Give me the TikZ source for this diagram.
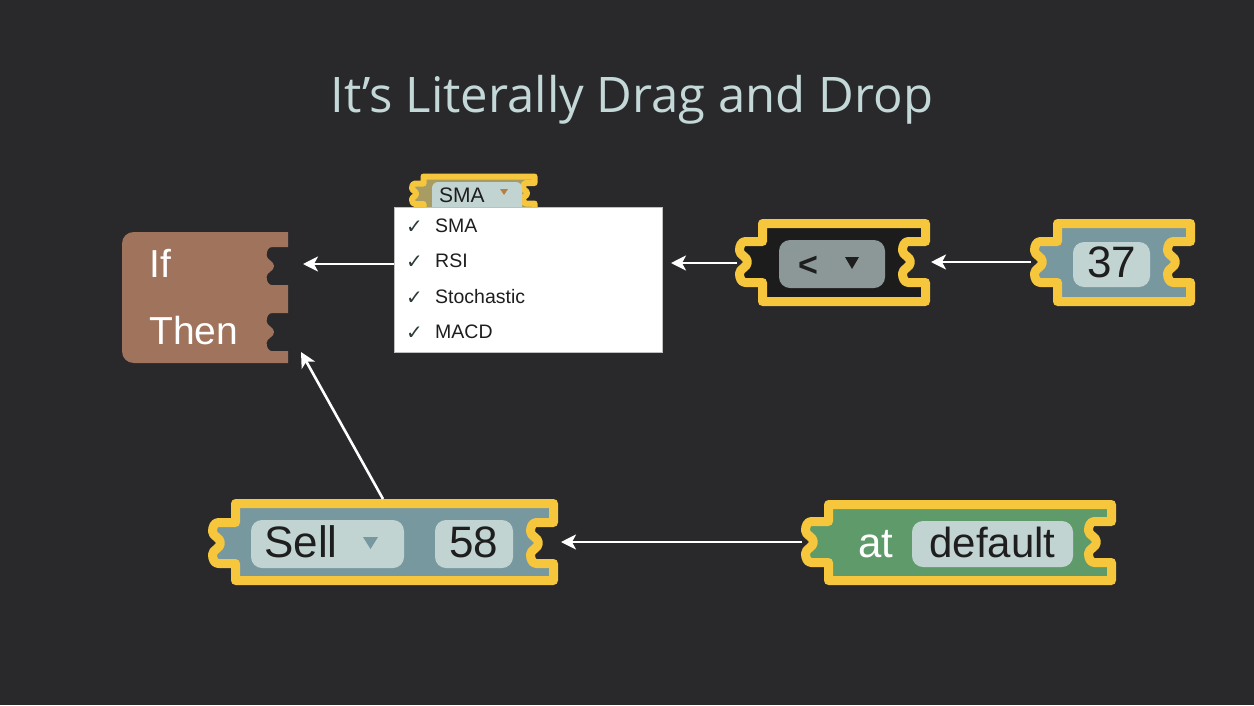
\documentclass[tikz,border=0pt]{standalone}
\usepackage{fontspec}
\setmainfont{Liberation Sans}
\newfontfamily\titlefont{Open Sans}
\newfontfamily\symfont{DejaVu Sans}
\usetikzlibrary{arrows.meta}

\definecolor{bg}{HTML}{29292B}
\definecolor{titlec}{HTML}{C4D8D8}
\definecolor{blkyellow}{HTML}{F6C63C}
\definecolor{ifbrown}{HTML}{A0745C}
\definecolor{tealblk}{HTML}{7898A0}
\definecolor{greenblk}{HTML}{5F9B6A}
\definecolor{darkblk}{HTML}{1C1C1C}
\definecolor{fieldc}{HTML}{C2D4D2}
\definecolor{opfield}{HTML}{8C9898}
\definecolor{smaint}{HTML}{A89C62}
\definecolor{inkc}{HTML}{1E1E1E}
\definecolor{checkc}{HTML}{2C3A3A}
\definecolor{caretc}{HTML}{B88040}

% Puzzle profile bulging to the left of a vertical edge at x=#1,
% starting at y=#2, scaled by #3, running down (#4=1) or up (#4=-1).
\newcommand{\puzzle}[4]{-- (#1,#2) -- ({#1-17*#3},#2)
  .. controls ({#1-21*#3},#2) and ({#1-23*#3},{#2+(#4)*4*#3}) .. ({#1-23*#3},{#2+(#4)*9*#3})
  .. controls ({#1-23*#3},{#2+(#4)*14*#3}) and ({#1-15*#3},{#2+(#4)*15*#3}) .. ({#1-15*#3},{#2+(#4)*20.5*#3})
  .. controls ({#1-15*#3},{#2+(#4)*26*#3}) and ({#1-23*#3},{#2+(#4)*27*#3}) .. ({#1-23*#3},{#2+(#4)*32*#3})
  .. controls ({#1-23*#3},{#2+(#4)*37*#3}) and ({#1-21*#3},{#2+(#4)*41*#3}) .. ({#1-17*#3},{#2+(#4)*41*#3})
  -- (#1,{#2+(#4)*41*#3})}

\tikzset{
  blk/.style={draw=blkyellow, line width=9pt, line join=round},
  fld/.style={rounded corners=11pt},
  lbl/.style={inner sep=0pt, text=inkc, font=\fontsize{44}{44}\selectfont},
  wlbl/.style={inner sep=0pt, text=white, font=\fontsize{39}{39}\selectfont},
  item/.style={inner sep=0pt, anchor=base west, text=inkc, font=\fontsize{19.5}{19.5}\selectfont},
  tick/.style={inner sep=0pt, anchor=base west, text=checkc, font=\symfont\fontsize{20}{20}\selectfont},
  conn/.style={draw=white, line width=2.6pt, -{Stealth[length=15pt,width=15pt,inset=4pt]}},
}

\begin{document}
\begin{tikzpicture}[x=1pt,y=-1pt]
\useasboundingbox (0,0) rectangle (1254,705);
\fill[bg] (0,0) rectangle (1254,705);

% title
\node[text=titlec, font=\titlefont\fontsize{49}{49}\selectfont, anchor=base, inner sep=0pt] (title) at (632,112) {It’s Literally Drag and Drop};

% If / Then block
\path[fill=ifbrown] (122,244) .. controls (122,237) and (127,232) .. (134,232) -- (288,232)
  \puzzle{288}{247}{0.93}{1} -- (288,313) \puzzle{288}{313}{0.93}{1} -- (288,363)
  -- (134,363) .. controls (127,363) and (122,358) .. (122,351) -- cycle;
\node[wlbl, anchor=base west] (iflbl) at (149,277) {If};
\node[wlbl, anchor=base west] (thenlbl) at (149,344) {Then};
\coordinate (ifsock) at (303,264);
\coordinate (thensock) at (301,352);

% SMA block, partly hidden by the menu
\path[draw=blkyellow, line width=6pt, line join=round, fill=smaint]
  (423.5,176.5) -- (534.5,176.5) \puzzle{534.5}{183}{0.5}{1} -- (534.5,222) -- (423.5,222)
  \puzzle{423.5}{204}{0.5}{(-1)} -- cycle;
\path[fill=fieldc, rounded corners=6pt] (432,182) rectangle (522,216);
\node[inner sep=0pt, anchor=base west, text=inkc, font=\fontsize{21}{21}\selectfont] (smalbl) at (439,202) {SMA};
\fill[caretc] (500,189) -- (508,189) -- (504,195) -- cycle;

% dropdown menu
\node[draw=gray!50, line width=0.8pt, fill=white, minimum width=268pt, minimum height=145pt, anchor=north west, inner sep=0pt] (menu) at (394,207) {};
\node[tick] (t1) at (406,233) {✓};
\node[tick] (t2) at (406,268) {✓};
\node[tick] (t3) at (406,304) {✓};
\node[tick] (t4) at (406,339) {✓};
\node[item] (i1) at (435,232) {SMA};
\node[item] (i2) at (435,267) {RSI};
\node[item] (i3) at (435,303) {Stochastic};
\node[item] (i4) at (435,338) {MACD};
\coordinate (menuout) at (394,264);
\coordinate (menuin) at (671,263);

% comparison block
\path[blk, fill=darkblk] (762.5,223.5) -- (925.5,223.5) \puzzle{925.5}{241.5}{1}{1} -- (925.5,301.5)
  -- (762.5,301.5) \puzzle{762.5}{282.5}{1}{(-1)} -- cycle;
\path[fill=opfield, fld] (779,240) rectangle (885,288);
\node[lbl, anchor=base, font=\bfseries\fontsize{34}{34}\selectfont] (oplbl) at (808,276) {<};
\fill[inkc] (845,257) -- (859,257) -- (852,269) -- cycle;
\coordinate (optab) at (737,263);
\coordinate (opsock) at (931,262);

% number block 37
\path[blk, fill=tealblk] (1057.5,223.5) -- (1190.5,223.5) \puzzle{1190.5}{241.5}{1}{1} -- (1190.5,301.5)
  -- (1057.5,301.5) \puzzle{1057.5}{282.5}{1}{(-1)} -- cycle;
\path[fill=fieldc, fld] (1073,242) rectangle (1150,287);
\node[lbl, anchor=base] (numlbl) at (1111.5,277) {37};
\coordinate (numtab) at (1031,262);

% Sell block
\path[blk, fill=tealblk] (235.5,503.5) -- (553.5,503.5) \puzzle{553.5}{522.5}{1}{1} -- (553.5,580.5)
  -- (235.5,580.5) \puzzle{235.5}{563.5}{1}{(-1)} -- cycle;
\path[fill=fieldc, fld] (251,520) rectangle (404,568);
\path[fill=fieldc, fld] (435,520) rectangle (513,568);
\node[lbl, anchor=base west] (selllbl) at (264,557) {Sell};
\fill[tealblk] (363,537) -- (378,537) -- (370.5,549) -- cycle;
\node[lbl, anchor=base] (qtylbl) at (474,557) {58};
\coordinate (selltop) at (383,499);
\coordinate (sellsock) at (561,542);

% at default block
\path[blk, fill=greenblk] (828.5,504.5) -- (1111.5,504.5) \puzzle{1111.5}{521.5}{1}{1} -- (1111.5,580.5)
  -- (828.5,580.5) \puzzle{828.5}{562.5}{1}{(-1)} -- cycle;
\path[fill=fieldc, fld] (912,521) rectangle (1073,567);
\node[inner sep=0pt, text=white, font=\fontsize{42}{42}\selectfont, anchor=base west] (atlbl) at (858,557) {at};
\node[lbl, font=\fontsize{42}{42}\selectfont, anchor=base] (deflbl) at (992.5,557) {default};
\coordinate (attab) at (802,542);

% connectors
\draw[conn] (menuout) -- (ifsock);
\draw[conn] (optab) -- (menuin);
\draw[conn] (numtab) -- (opsock);
\draw[conn] (attab) -- (sellsock);
\draw[conn] (selltop) -- (thensock);
\end{tikzpicture}
\end{document}
